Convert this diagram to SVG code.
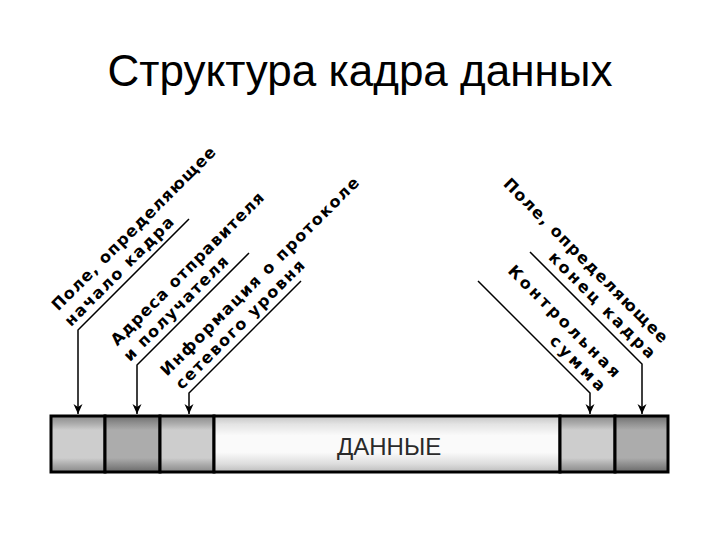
<svg xmlns="http://www.w3.org/2000/svg" width="720" height="540" viewBox="0 0 720 540">
<style>
.title{font-family:"Liberation Sans",Arial,sans-serif;font-size:44px;fill:#000}
.lbl{font-family:"DejaVu Sans","Liberation Sans",sans-serif;font-size:16px;font-weight:bold;fill:#000}
.lead{fill:none;stroke:#000;stroke-width:1.5}
.cell{stroke:#000;stroke-width:3}
.data{font-family:"Liberation Sans",Arial,sans-serif;font-size:24px;fill:#2a2a2a}
</style>
<defs>
<linearGradient id="gLight" x1="0" y1="0" x2="0" y2="1">
<stop offset="0" stop-color="#8c8c8c"/><stop offset="0.12" stop-color="#a8a8a8"/><stop offset="0.25" stop-color="#cdcdcd"/><stop offset="0.75" stop-color="#cdcdcd"/><stop offset="0.88" stop-color="#a8a8a8"/><stop offset="1" stop-color="#8a8a8a"/>
</linearGradient>
<linearGradient id="gDark" x1="0" y1="0" x2="0" y2="1">
<stop offset="0" stop-color="#6e6e6e"/><stop offset="0.12" stop-color="#8e8e8e"/><stop offset="0.25" stop-color="#acacac"/><stop offset="0.75" stop-color="#acacac"/><stop offset="0.88" stop-color="#8a8a8a"/><stop offset="1" stop-color="#6a6a6a"/>
</linearGradient>
<linearGradient id="gWhite" x1="0" y1="0" x2="0" y2="1">
<stop offset="0" stop-color="#c4c4c4"/><stop offset="0.15" stop-color="#e4e4e4"/><stop offset="0.35" stop-color="#fafafa"/><stop offset="0.65" stop-color="#fafafa"/><stop offset="0.85" stop-color="#dedede"/><stop offset="1" stop-color="#bdbdbd"/>
</linearGradient>
<marker id="arr" viewBox="-10 -5 11 10" refX="0" refY="0" markerWidth="11" markerHeight="10" markerUnits="userSpaceOnUse" orient="auto">
<path d="M0,0 L-10,-4.5 L-7,0 L-10,4.5 Z" fill="#000"/>
</marker>
</defs>
<rect width="720" height="540" fill="#fff"/>
<text id="title" class="title" x="360" y="86" text-anchor="middle">Структура кадра данных</text>

<g id="frame">
<rect class="cell" x="51" y="416" width="54" height="56" fill="url(#gLight)"/>
<rect class="cell" x="105" y="416" width="55" height="56" fill="url(#gDark)"/>
<rect class="cell" x="160" y="416" width="54" height="56" fill="url(#gLight)"/>
<g id="data-field">
<rect class="cell" x="214" y="416" width="346" height="56" fill="url(#gWhite)"/>
<text class="data" x="337" y="455">ДАННЫЕ</text>
</g>
<rect class="cell" x="560" y="416" width="55" height="56" fill="url(#gLight)"/>
<rect class="cell" x="615" y="416" width="53" height="56" fill="url(#gDark)"/>
</g>

<g id="connectors">
<polyline class="lead" points="189,219 78,330 78,414" marker-end="url(#arr)"/>
<polyline class="lead" points="249,253 137,365 137,414" marker-end="url(#arr)"/>
<polyline class="lead" points="301,281 189,393 189,414" marker-end="url(#arr)"/>
<polyline class="lead" points="530,252 642,364 642,414" marker-end="url(#arr)"/>
<polyline class="lead" points="478,281 590,393 590,414" marker-end="url(#arr)"/>
</g>

<g id="label-start" transform="translate(78,330) rotate(-45)">
<text class="lbl" x="-1" y="-27" textLength="224" lengthAdjust="spacing">Поле, определяющее</text>
<text class="lbl" x="-3" y="-7" textLength="147" lengthAdjust="spacing">начало кадра</text>
</g>
<g id="label-address" transform="translate(137,365) rotate(-45)">
<text class="lbl" x="-1" y="-27" textLength="209" lengthAdjust="spacing">Адреса отправителя</text>
<text class="lbl" x="-3" y="-7" textLength="141" lengthAdjust="spacing">и получателя</text>
</g>
<g id="label-protocol" transform="translate(189,393) rotate(-45)">
<text class="lbl" x="-4" y="-27" textLength="273" lengthAdjust="spacing">Информация о протоколе</text>
<text class="lbl" x="-3" y="-7" textLength="175" lengthAdjust="spacing">сетевого уровня</text>
</g>
<g id="label-end" transform="translate(530,252) rotate(45)">
<text class="lbl" x="158" y="-28" text-anchor="end" textLength="225" lengthAdjust="spacing">Поле, определяющее</text>
<text class="lbl" x="160" y="-8" text-anchor="end" textLength="143" lengthAdjust="spacing">конец кадра</text>
</g>
<g id="label-checksum" transform="translate(478,281) rotate(45)">
<text class="lbl" x="165" y="-27" text-anchor="end" textLength="151" lengthAdjust="spacing">Контрольная</text>
<text class="lbl" x="164" y="-7" text-anchor="end" textLength="71" lengthAdjust="spacing">сумма</text>
</g>
</svg>
